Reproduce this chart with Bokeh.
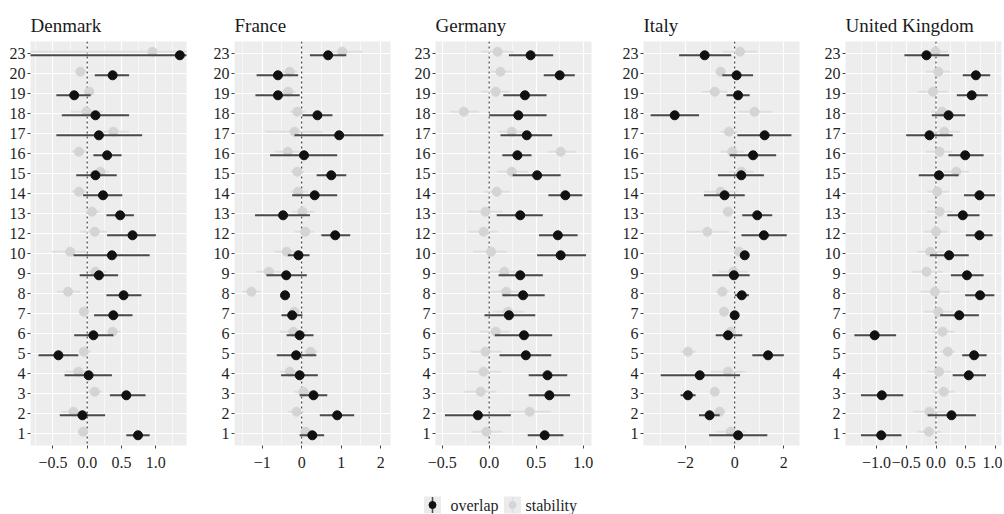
import numpy as np
from bokeh.plotting import figure
from bokeh.layouts import row, column
from bokeh.models import (ColumnDataSource, FixedTicker, CustomJSTickFormatter, Span, Range1d)
from bokeh.core.properties import value
from bokeh.embed import file_html
from bokeh.resources import INLINE

# ---------------- data ----------------
categories = ["23", "20", "19", "18", "17", "16", "15", "14", "13", "12",
              "10", "9", "8", "7", "6", "5", "4", "3", "2", "1"]  # top to bottom

countries = ["Denmark", "France", "Germany", "Italy", "United Kingdom"]

# overlap estimates and intervals
dk_ov = [1.35, 0.37, -0.19, 0.12, 0.17, 0.29, 0.12, 0.23, 0.48, 0.66, 0.36, 0.17, 0.53, 0.38, 0.09, -0.42, 0.02, 0.57, -0.07, 0.74]
dk_ov_lo = [-0.95, 0.11, -0.45, -0.37, -0.45, 0.09, -0.16, -0.06, 0.28, 0.29, -0.20, -0.11, 0.28, 0.10, -0.19, -0.71, -0.33, 0.33, -0.40, 0.57]
dk_ov_hi = [1.60, 0.61, 0.05, 0.61, 0.80, 0.50, 0.43, 0.51, 0.68, 1.00, 0.91, 0.45, 0.79, 0.66, 0.38, -0.13, 0.36, 0.85, 0.26, 0.91]
dk_st = [0.95, -0.10, 0.03, -0.01, 0.38, -0.12, 0.19, -0.12, 0.07, 0.11, -0.25, 0.12, -0.28, -0.05, 0.37, -0.05, -0.13, 0.11, -0.20, -0.06]
dk_st_lo = [-0.95, -0.17, -0.05, -0.24, 0.15, -0.22, 0.05, -0.22, -0.02, -0.10, -0.51, 0.02, -0.44, -0.12, 0.28, -0.12, -0.32, 0.02, -0.39, -0.13]
dk_st_hi = [1.60, -0.02, 0.10, 0.22, 0.61, -0.02, 0.32, -0.02, 0.19, 0.28, 0.00, 0.28, -0.10, 0.02, 0.49, 0.05, 0.00, 0.22, -0.05, 0.01]

fr_ov = [0.67, -0.60, -0.60, 0.40, 0.95, 0.06, 0.75, 0.33, -0.47, 0.85, -0.08, -0.39, -0.42, -0.24, -0.05, -0.14, -0.05, 0.30, 0.90, 0.27]
fr_ov_lo = [0.21, -1.14, -1.17, 0.02, -0.18, -0.80, 0.38, -0.24, -1.18, 0.50, -0.35, -0.89, -0.49, -0.51, -0.38, -0.63, -0.52, -0.05, 0.46, -0.05]
fr_ov_hi = [1.13, -0.09, -0.05, 0.78, 2.07, 0.90, 1.13, 0.90, 0.21, 1.23, 0.20, 0.13, -0.35, 0.02, 0.30, 0.37, 0.41, 0.65, 1.33, 0.57]
fr_st = [1.03, -0.30, -0.34, -0.11, -0.18, -0.35, -0.11, -0.09, 0.02, 0.09, -0.38, -0.83, -1.27, -0.19, -0.21, 0.23, -0.30, 0.04, -0.13, 0.10]
fr_st_lo = [0.65, -0.49, -0.53, -0.30, -0.91, -0.68, -0.28, -0.28, -0.24, -0.18, -0.70, -1.17, -1.50, -0.36, -0.55, 0.06, -0.55, -0.19, -0.35, -0.04]
fr_st_hi = [1.54, -0.11, -0.15, 0.10, 0.52, -0.03, 0.06, 0.16, 0.31, 0.31, -0.09, -0.53, -1.04, -0.03, 0.14, 0.41, -0.05, 0.23, 0.06, 0.24]

de_ov = [0.44, 0.75, 0.38, 0.31, 0.40, 0.30, 0.51, 0.81, 0.33, 0.73, 0.76, 0.33, 0.36, 0.21, 0.37, 0.39, 0.62, 0.64, -0.12, 0.59]
de_ov_lo = [0.21, 0.58, 0.15, 0.00, 0.12, 0.14, 0.25, 0.63, 0.08, 0.53, 0.51, 0.10, 0.14, -0.05, 0.06, 0.11, 0.42, 0.42, -0.47, 0.41]
de_ov_hi = [0.68, 0.91, 0.61, 0.61, 0.67, 0.45, 0.76, 0.99, 0.57, 0.94, 1.03, 0.57, 0.59, 0.49, 0.67, 0.66, 0.83, 0.86, 0.23, 0.79]
de_st = [0.09, 0.12, 0.07, -0.27, 0.24, 0.76, 0.24, 0.08, -0.04, -0.06, 0.02, 0.16, 0.18, 0.20, 0.07, -0.04, -0.06, -0.09, 0.43, -0.03]
de_st_lo = [-0.09, 0.02, -0.09, -0.42, 0.09, 0.62, 0.08, -0.06, -0.23, -0.22, -0.17, 0.00, 0.02, 0.04, -0.10, -0.20, -0.24, -0.27, 0.21, -0.19]
de_st_hi = [0.26, 0.24, 0.22, -0.11, 0.39, 0.92, 0.41, 0.22, 0.14, 0.09, 0.19, 0.34, 0.34, 0.37, 0.22, 0.13, 0.13, 0.08, 0.66, 0.14]

it_ov = [-1.22, 0.08, 0.14, -2.44, 1.22, 0.75, 0.27, -0.41, 0.92, 1.19, 0.41, -0.03, 0.29, 0.00, -0.27, 1.36, -1.42, -1.90, -1.02, 0.14]
it_ov_lo = [-2.26, -0.50, -0.33, -3.42, 0.11, -0.20, -0.68, -1.25, 0.31, 0.28, 0.31, -0.91, 0.01, -0.09, -0.77, 0.72, -3.01, -2.20, -1.45, -1.04]
it_ov_hi = [-0.14, 0.75, 0.61, -1.45, 2.31, 1.69, 1.19, 0.41, 1.53, 2.12, 0.52, 0.61, 0.58, 0.11, 0.31, 2.00, 0.22, -1.59, -0.61, 1.33]
it_st = [0.22, -0.57, -0.81, 0.81, -0.23, -0.10, 0.27, -0.57, -0.27, -1.11, 0.18, -0.05, -0.50, -0.43, -0.16, -1.90, -0.27, -0.81, -0.61, -0.16]
it_st_lo = [-0.50, -0.77, -1.32, 0.14, -0.57, -0.57, -0.23, -1.25, -0.50, -1.97, 0.04, -0.64, -0.77, -0.57, -0.36, -2.20, -0.98, -0.91, -0.84, -0.77]
it_st_hi = [0.92, -0.37, -0.30, 1.53, 0.11, 0.38, 0.78, 0.11, -0.03, -0.23, 0.31, 0.52, -0.23, -0.30, 0.04, -1.55, 0.45, -0.71, -0.37, 0.45]

uk_ov = [-0.16, 0.67, 0.60, 0.21, -0.11, 0.49, 0.05, 0.73, 0.45, 0.73, 0.22, 0.52, 0.74, 0.39, -1.03, 0.64, 0.55, -0.91, 0.26, -0.92]
uk_ov_lo = [-0.53, 0.45, 0.35, -0.07, -0.50, 0.21, -0.29, 0.47, 0.19, 0.50, -0.10, 0.25, 0.49, 0.07, -1.37, 0.44, 0.28, -1.26, -0.14, -1.26]
uk_ov_hi = [0.22, 0.91, 0.87, 0.49, 0.28, 0.80, 0.38, 0.99, 0.73, 0.95, 0.55, 0.80, 0.98, 0.72, -0.67, 0.85, 0.84, -0.55, 0.67, -0.58]
uk_st = [-0.01, 0.04, -0.05, 0.10, 0.14, 0.06, 0.34, 0.02, 0.06, 0.00, -0.10, -0.16, -0.02, 0.04, 0.11, 0.20, 0.05, 0.13, -0.11, -0.12]
uk_st_lo = [-0.14, -0.17, -0.30, -0.08, -0.11, -0.17, 0.13, -0.15, -0.15, -0.20, -0.32, -0.40, -0.26, -0.20, -0.07, 0.07, -0.15, -0.06, -0.39, -0.32]
uk_st_hi = [0.20, 0.24, 0.20, 0.28, 0.41, 0.28, 0.56, 0.22, 0.28, 0.19, 0.13, 0.11, 0.24, 0.28, 0.30, 0.32, 0.25, 0.32, 0.17, 0.08]

# axis ticks per panel
dk_ticks = [-0.5, 0.0, 0.5, 1.0]
fr_ticks = [-1, 0, 1, 2]
de_ticks = [-0.5, 0.0, 0.5, 1.0]
it_ticks = [-2, 0, 2]
uk_ticks = [-1.0, -0.5, 0.0, 0.5, 1.0]

series_names = ["overlap", "stability"]

# ---------------- style / layout ----------------
FONT = "Liberation Serif"
PANEL_BG = "#EDEDED"
OV_PT, OV_LN = "#111111", "#4a4a4a"
ST_PT, ST_LN = "#d4d4d4", "#dedede"
TXT = "#1f1f1f"

panels = [
    dict(name=countries[0], ov=dk_ov, ovl=dk_ov_lo, ovh=dk_ov_hi, st=dk_st, stl=dk_st_lo, sth=dk_st_hi,
         ticks=dk_ticks, minor=[-0.75, -0.25, 0.25, 0.75, 1.25], rng=(-0.827, 1.447), dec=1,
         width=200, bl=30, br=14),
    dict(name=countries[1], ov=fr_ov, ovl=fr_ov_lo, ovh=fr_ov_hi, st=fr_st, stl=fr_st_lo, sth=fr_st_hi,
         ticks=fr_ticks, minor=[-1.5, -0.5, 0.5, 1.5], rng=(-1.70, 2.25), dec=0,
         width=200, bl=34, br=10),
    dict(name=countries[2], ov=de_ov, ovl=de_ov_lo, ovh=de_ov_hi, st=de_st, stl=de_st_lo, sth=de_st_hi,
         ticks=de_ticks, minor=[-0.25, 0.25, 0.75], rng=(-0.571, 1.088), dec=1,
         width=200, bl=35, br=9),
    dict(name=countries[3], ov=it_ov, ovl=it_ov_lo, ovh=it_ov_hi, st=it_st, stl=it_st_lo, sth=it_st_hi,
         ticks=it_ticks, minor=[-3, -1, 1], rng=(-3.71, 2.64), dec=0,
         width=200, bl=43, br=1),
    dict(name=countries[4], ov=uk_ov, ovl=uk_ov_lo, ovh=uk_ov_hi, st=uk_st, stl=uk_st_lo, sth=uk_st_hi,
         ticks=uk_ticks, minor=[-1.25, -0.75, -0.25, 0.25, 0.75], rng=(-1.52, 1.10), dec=1,
         width=202, bl=45, br=1),
]

n = len(categories)
ypos = np.arange(n, 0, -1).astype(float)   # top category gets highest position
labels_bottom_up = list(reversed(categories))
DODGE = 0.09

figs = []
for pn in panels:
    p = figure(width=pn["width"], height=478, output_backend="svg", toolbar_location=None,
               x_range=Range1d(*pn["rng"]), y_range=Range1d(0.4, n + 0.6),
               min_border_left=pn["bl"], min_border_right=pn["br"],
               min_border_top=41, min_border_bottom=33)
    p.title.text = pn["name"]
    p.title.text_font = FONT
    p.title.text_font_size = "19px"
    p.title.text_font_style = "normal"
    p.title.text_color = "#1a1a1a"
    p.title.align = "left"
    p.title.standoff = 11
    p.background_fill_color = PANEL_BG
    p.border_fill_color = "white"
    p.outline_line_color = None

    # axes
    p.xaxis.ticker = FixedTicker(ticks=pn["ticks"], minor_ticks=pn["minor"])
    p.xaxis.formatter = CustomJSTickFormatter(args=dict(d=pn["dec"]),
                                              code="return tick.toFixed(d).replace('-', '\\u2212');")
    p.yaxis.ticker = FixedTicker(ticks=list(range(1, n + 1)))
    p.yaxis.formatter = CustomJSTickFormatter(args=dict(labels=labels_bottom_up),
                                              code="const i = Math.round(tick) - 1; return (i >= 0 && i < labels.length) ? labels[i] : '';")
    for ax in (p.xaxis, p.yaxis):
        ax.axis_line_color = None
        ax.major_tick_line_color = "#444444"
        ax.major_tick_out = 3
        ax.major_tick_in = 0
        ax.minor_tick_line_color = None
        ax.major_label_text_font = FONT
        ax.major_label_text_font_size = "16px"
        ax.major_label_text_color = TXT
    p.xaxis.major_label_standoff = 7
    p.yaxis.major_label_standoff = 2

    p.xgrid.grid_line_color = "white"
    p.xgrid.grid_line_width = 1.2
    p.xgrid.minor_grid_line_color = "white"
    p.xgrid.minor_grid_line_width = 0.6
    p.ygrid.grid_line_color = "white"
    p.ygrid.grid_line_width = 1.2

    zero = Span(location=0, dimension="height", line_color="#333333", line_width=1.1,
                line_dash="2 3", level="underlay")
    p.add_layout(zero)

    src = ColumnDataSource(dict(
        y_st=ypos + DODGE, y_ov=ypos - DODGE,
        ov=pn["ov"], ovl=pn["ovl"], ovh=pn["ovh"],
        st=pn["st"], stl=pn["stl"], sth=pn["sth"]))

    p.segment(x0="stl", x1="sth", y0="y_st", y1="y_st", source=src, line_color=ST_LN, line_width=2)
    p.scatter(x="st", y="y_st", source=src, size=9, fill_color=ST_PT, line_color=ST_PT)
    p.segment(x0="ovl", x1="ovh", y0="y_ov", y1="y_ov", source=src, line_color=OV_LN, line_width=2)
    p.scatter(x="ov", y="y_ov", source=src, size=9, fill_color=OV_PT, line_color=OV_PT)
    figs.append(p)

# ---------------- legend strip ----------------
lg = figure(width=1002, height=36, output_backend="svg", toolbar_location=None,
            x_range=Range1d(0, 1002), y_range=Range1d(0, 36),
            min_border=0, min_border_left=0, min_border_right=0, min_border_top=0, min_border_bottom=0)
lg.axis.visible = False
lg.grid.visible = False
lg.outline_line_color = None
lg.background_fill_color = "white"
lg.border_fill_color = "white"

key_x = [432, 512]
text_x = [450, 525]
key_pt = [OV_PT, ST_PT]
key_ln = [OV_LN, ST_LN]
lsrc = ColumnDataSource(dict(x=key_x, tx=text_x, y=[9.5, 9.5], y0=[1.5, 1.5], y1=[17.5, 17.5],
                             pt=key_pt, ln=key_ln, label=series_names))
lg.rect(x="x", y="y", width=17, height=17, source=lsrc, fill_color="#EBEBEB", line_color=None)
lg.segment(x0="x", x1="x", y0="y0", y1="y1", source=lsrc, line_color="ln", line_width=1.5)
lg.scatter(x="x", y="y", source=lsrc, size=7, fill_color="pt", line_color="pt")
lg.text(x="tx", y="y", text="label", source=lsrc, text_font=value(FONT), text_font_size="16px",
        text_baseline="middle", text_color=TXT)

layout = column(row(*figs, spacing=0), lg, spacing=0)
open("out.html", "w").write(file_html(layout, INLINE))
